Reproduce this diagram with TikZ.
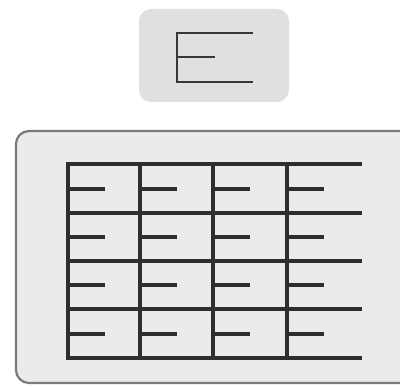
\documentclass[tikz,border=0pt]{standalone}
\begin{document}
\begin{tikzpicture}[x=1pt,y=-1pt,
  grid/.style={draw=black!82, line width=3.2pt, line cap=butt},
  panel/.style={draw=black!52, line width=2.2pt, fill=black!8, rounded corners=13pt},
  tile/.style={fill=black!12, rounded corners=12pt}]
\useasboundingbox (0,0) rectangle (400,387);
\clip (0,0) rectangle (400,387);
% top tile with E
\fill[tile] (139,9) rectangle (289,102);
\draw[draw=black!78, line width=2.4pt] (253,33) -- (177,33) -- (177,82) -- (253,82);
\draw[draw=black!78, line width=2.4pt] (177,57) -- (215,57);
% big panel
\draw[panel] (16,131) rectangle (420,383);
% grid
\foreach \y in {164,213,261,309,358} \draw[grid] (66.4,\y) -- (362,\y);
\foreach \x in {68,140,213,287} {
  \draw[grid] (\x,164) -- (\x,358);
  \foreach \y in {189,237,285,334} \draw[grid] (\x,\y) -- (\x+37,\y);
}
\end{tikzpicture}
\end{document}
